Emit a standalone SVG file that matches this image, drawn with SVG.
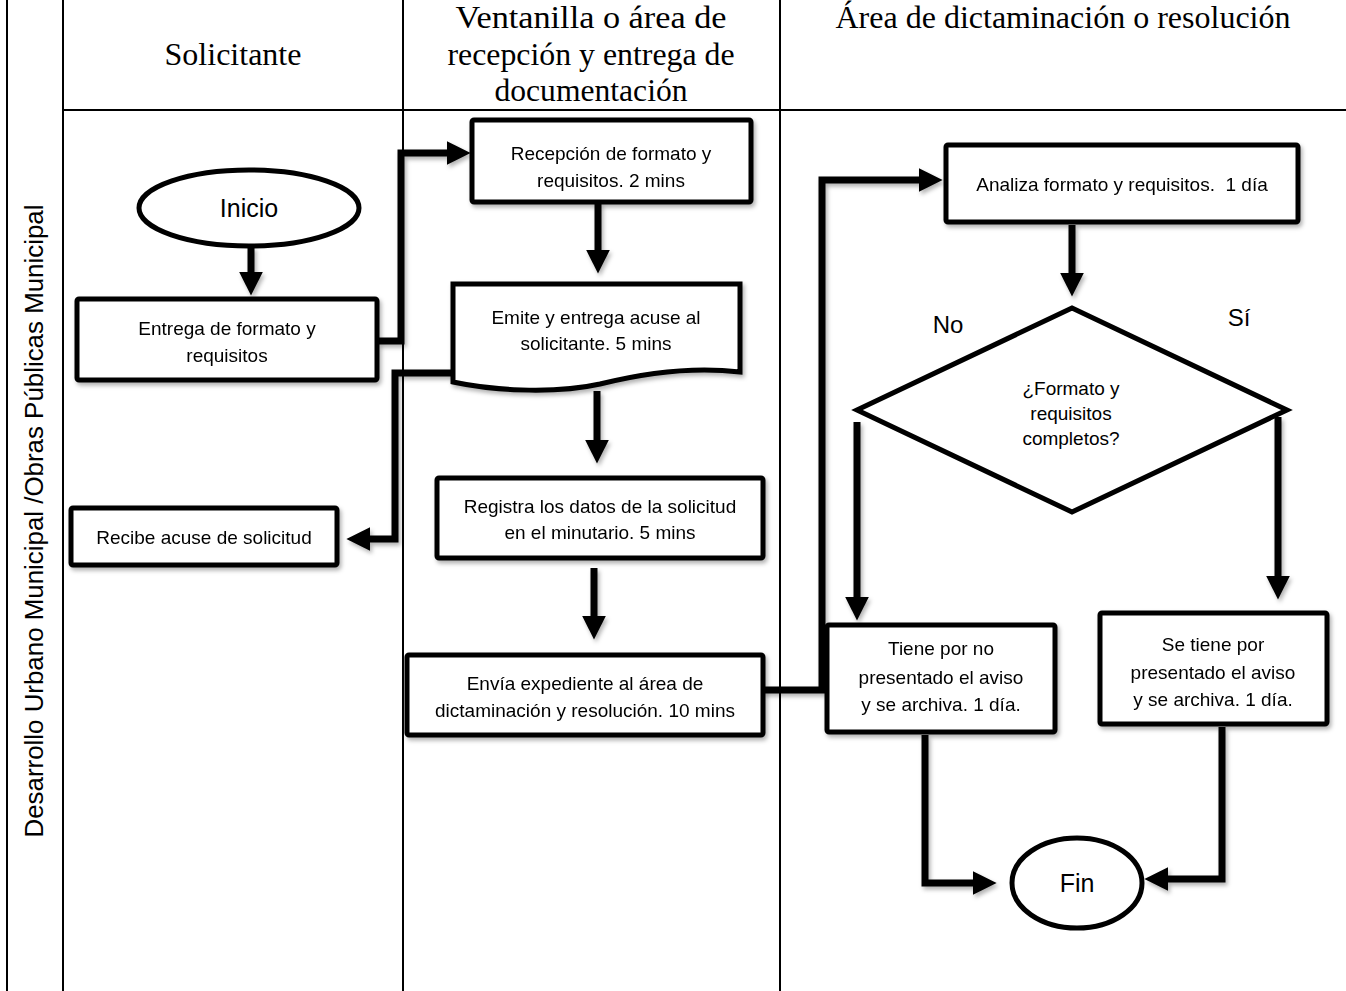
<svg xmlns="http://www.w3.org/2000/svg" width="1346" height="991" viewBox="0 0 1346 991">
<style>
.lane{stroke:#000;stroke-width:2;fill:none}
.box{fill:#fff;stroke:#000;stroke-width:5}
.t{font-family:"Liberation Sans",Arial,sans-serif;font-size:19px;text-anchor:middle;fill:#000}
.big{font-size:25px}
.h{font-family:"Liberation Serif","Times New Roman",serif;font-size:32px;text-anchor:middle;fill:#000}
.conn{fill:none;stroke:#000;stroke-width:7;stroke-linejoin:miter}
</style>
<defs>
<marker id="ah" viewBox="0 0 10 10" refX="0.5" refY="5" markerWidth="3.4" markerHeight="3.4" orient="auto" markerUnits="strokeWidth">
<path d="M0,0 L10,5 L0,10 Z" fill="#000"/>
</marker>
<filter id="sh" x="-20%" y="-20%" width="140%" height="140%">
<feDropShadow dx="2" dy="3" stdDeviation="2" flood-color="#000" flood-opacity="0.3"/>
</filter>
</defs>
<rect width="1346" height="991" fill="#fff"/>
<g id="lanes">
<line class="lane" x1="7" y1="0" x2="7" y2="991"/>
<line class="lane" x1="63" y1="0" x2="63" y2="991"/>
<line class="lane" x1="403" y1="0" x2="403" y2="991"/>
<line class="lane" x1="780" y1="0" x2="780" y2="991"/>
<line class="lane" x1="63" y1="110" x2="1346" y2="110"/>
<text class="h" x="233" y="65">Solicitante</text>
<text class="h" x="591" y="28" textLength="271" lengthAdjust="spacingAndGlyphs">Ventanilla o área de</text>
<text class="h" x="591" y="65" textLength="287" lengthAdjust="spacingAndGlyphs">recepción y entrega de</text>
<text class="h" x="591" y="101" textLength="193" lengthAdjust="spacingAndGlyphs">documentación</text>
<text class="h" x="1063" y="28" textLength="455" lengthAdjust="spacingAndGlyphs">Área de dictaminación o resolución</text>
<text class="t" transform="translate(43,521) rotate(-90)" style="font-size:25px" textLength="633" lengthAdjust="spacingAndGlyphs">Desarrollo Urbano Municipal /Obras Públicas Municipal</text>
</g>
<g id="connectors" filter="url(#sh)">
<path class="conn" d="M251,247 V273" marker-end="url(#ah)"/>
<path class="conn" d="M378,341 H401 V153 H448" marker-end="url(#ah)"/>
<path class="conn" d="M598,203 V251" marker-end="url(#ah)"/>
<path class="conn" d="M453,373 H395 V539 H369" marker-end="url(#ah)"/>
<path class="conn" d="M597,391 V441" marker-end="url(#ah)"/>
<path class="conn" d="M594,568 V617" marker-end="url(#ah)"/>
<path class="conn" d="M763,690 H822 V180 H920" marker-end="url(#ah)"/>
<path class="conn" d="M1072,225 V274" marker-end="url(#ah)"/>
<path class="conn" d="M857,422 V598" marker-end="url(#ah)"/>
<path class="conn" d="M1278,417 V577" marker-end="url(#ah)"/>
<path class="conn" d="M925,735 V883 H974" marker-end="url(#ah)"/>
<path class="conn" d="M1222,727 V879 H1167" marker-end="url(#ah)"/>
</g>
<g id="inicio">
<ellipse class="box" cx="249" cy="208" rx="110" ry="38"/>
<text class="t big" x="249" y="217">Inicio</text>
</g>
<g id="entrega" filter="url(#sh)">
<rect class="box" x="77" y="299" width="300" height="81" rx="2"/>
<text class="t" x="227" y="335">Entrega de formato y</text>
<text class="t" x="227" y="362">requisitos</text>
</g>
<g id="recepcion" filter="url(#sh)">
<rect class="box" x="472" y="120" width="279" height="82" rx="2"/>
<text class="t" x="611" y="160">Recepción de formato y</text>
<text class="t" x="611" y="187">requisitos. 2 mins</text>
</g>
<g id="emite" filter="url(#sh)">
<path class="box" d="M453,284 H740 V372 C690,366 640,374 600,384 C560,393 500,392 453,382 Z"/>
<text class="t" x="596" y="324">Emite y entrega acuse al</text>
<text class="t" x="596" y="350">solicitante. 5 mins</text>
</g>
<g id="recibe" filter="url(#sh)">
<rect class="box" x="71" y="508" width="266" height="57" rx="2"/>
<text class="t" x="204" y="544">Recibe acuse de solicitud</text>
</g>
<g id="registra" filter="url(#sh)">
<rect class="box" x="437" y="478" width="326" height="80" rx="2"/>
<text class="t" x="600" y="513">Registra los datos de la solicitud</text>
<text class="t" x="600" y="539">en el minutario. 5 mins</text>
</g>
<g id="envia" filter="url(#sh)">
<rect class="box" x="407" y="655" width="356" height="80" rx="2"/>
<text class="t" x="585" y="690">Envía expediente al área de</text>
<text class="t" x="585" y="717">dictaminación y resolución. 10 mins</text>
</g>
<g id="analiza" filter="url(#sh)">
<rect class="box" x="946" y="145" width="352" height="77" rx="2"/>
<text class="t" x="1122" y="191" xml:space="preserve">Analiza formato y requisitos.  1 día</text>
</g>
<g id="decision">
<path class="box" d="M1072,308 L1287,410 L1072,512 L857,410 Z"/>
<text class="t" x="1071" y="395">¿Formato y</text>
<text class="t" x="1071" y="420">requisitos</text>
<text class="t" x="1071" y="445">completos?</text>
<text class="t" x="948" y="333" style="font-size:24px">No</text>
<text class="t" x="1239" y="326" style="font-size:24px">Sí</text>
</g>
<g id="tiene" filter="url(#sh)">
<rect class="box" x="827" y="625" width="228" height="107" rx="2"/>
<text class="t" x="941" y="655">Tiene por no</text>
<text class="t" x="941" y="684">presentado el aviso</text>
<text class="t" x="941" y="711">y se archiva. 1 día.</text>
</g>
<g id="setiene" filter="url(#sh)">
<rect class="box" x="1100" y="613" width="227" height="111" rx="2"/>
<text class="t" x="1213" y="651">Se tiene por</text>
<text class="t" x="1213" y="679">presentado el aviso</text>
<text class="t" x="1213" y="706">y se archiva. 1 día.</text>
</g>
<g id="fin">
<ellipse class="box" cx="1077" cy="883" rx="65" ry="45"/>
<text class="t big" x="1077" y="892">Fin</text>
</g>
</svg>
